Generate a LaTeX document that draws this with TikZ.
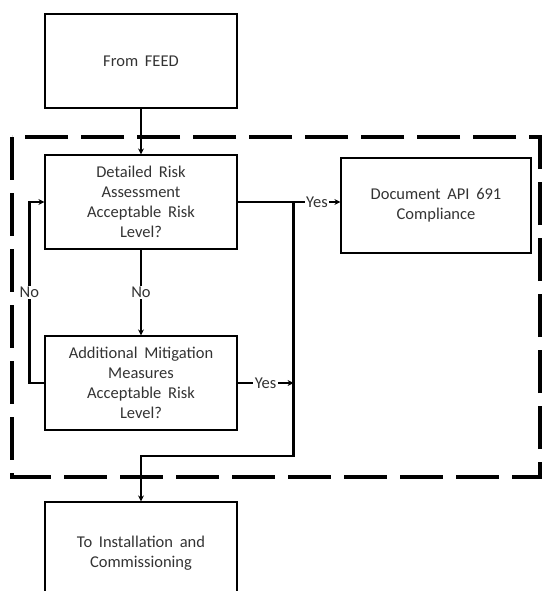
\documentclass[tikz,border=0pt]{standalone}
\usepackage{fontspec}
\setmainfont[WordSpace=1.8]{Carlito}
\usetikzlibrary{arrows.meta}
\begin{document}
\begin{tikzpicture}[x=1pt,y=-1pt,>={Stealth[length=6pt,width=6pt]},line join=miter,
	font=\fontsize{16.5}{20}\selectfont\color{black!80},
	stepbox/.style={draw,line width=1.2pt,minimum width=192pt,minimum height=94pt,align=center,inner sep=0pt},
	link/.style={line width=2.4pt},
	tag/.style={fill=white,inner sep=1.5pt}]
	% frame of the page
	\useasboundingbox (0,0) rectangle (542,591);
	\clip (0,0) rectangle (542,591);
	% dashed frame
	\draw [line width=4.5pt,dash pattern=on 43pt off 13pt] (12,137) rectangle (540,477);
	% boxes
	\node [stepbox] (feed) at (141,61) {From FEED};
	\node [stepbox] (detail) at (141,202) {Detailed Risk\\Assessment\\Acceptable Risk\\Level?};
	\node [stepbox,minimum width=190pt,minimum height=95pt] (document) at (436,205.5) {Document API 691\\Compliance};
	\node [stepbox] (mitig) at (141,383) {Additional Mitigation\\Measures\\Acceptable Risk\\Level?};
	\node [stepbox,minimum height=102pt] (install) at (141,553) {To Installation and\\Commissioning};
	% turning points
	\coordinate (split) at ([xshift=56pt]detail.east);
	\coordinate (join) at (split |- 0,456);
	\coordinate (back) at ([xshift=-15pt]mitig.west);
	% connectors
	\draw [link,->] (feed) -- (detail);
	\draw [link,->] (detail.east) -- (split) -- (join) -| (install.north);
	\draw [link,->] (split) -- node [tag] {Yes} (split -| document.west);
	\draw [link,->] (detail) -- node [tag] {No} (mitig);
	\draw [link,->] (mitig.east) -- node [tag] {Yes} (mitig.east -| split);
	\draw [link,->] (mitig.west) -- (back) |- node [tag,pos=0.25] {No} (detail.west);
\end{tikzpicture}
\end{document}
